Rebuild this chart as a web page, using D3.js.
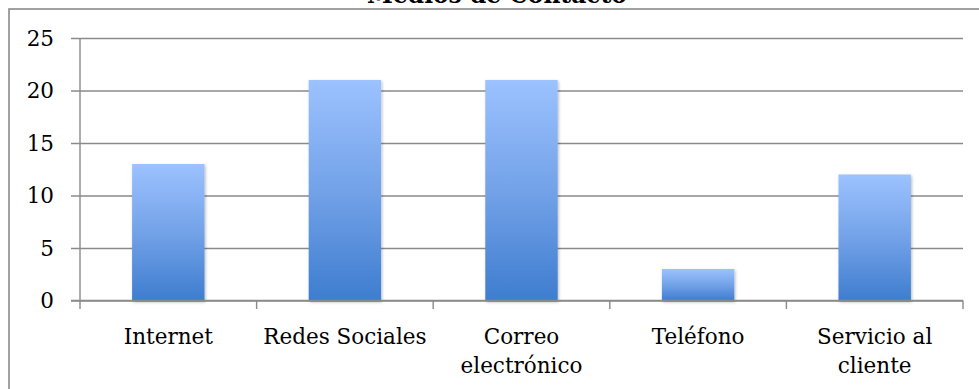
<!DOCTYPE html>
<html>
<head>
<meta charset="utf-8">
<script src="https://cdn.jsdelivr.net/npm/d3@7"></script>
<style>
  html, body { margin: 0; padding: 0; background: #fff; }
  svg { display: block; }
  text { font-family: "DejaVu Serif", "Liberation Serif", serif; fill: #000; }
</style>
</head>
<body>
<svg id="chart" width="979" height="389"></svg>
<script>
// Chart data
const title = "Medios de Contacto";
const categories = ["Internet", "Redes Sociales", "Correo electrónico", "Teléfono", "Servicio al cliente"];
const values = [13, 21, 21, 3, 12];
const yTicks = [0, 5, 10, 15, 20, 25];

const svg = d3.select("#chart");
const W = 979, H = 389;
const plot = { left: 80, right: 963, top: 38, bottom: 300.5 };
const gridColor = "#8a8a8a";
const labelSize = 21.5;

// Outer chart frame (runs past the right and bottom edges)
svg.append("rect")
  .attr("x", 9).attr("y", 9)
  .attr("width", W + 20).attr("height", H + 20)
  .attr("fill", "#fff")
  .attr("stroke", gridColor).attr("stroke-width", 1.6);

// Title sits just above the frame
const titleText = svg.append("text")
  .attr("x", 497).attr("y", 3)
  .attr("text-anchor", "middle")
  .attr("font-weight", "bold")
  .attr("font-size", 24)
  .text(title);
const tw = titleText.node().getComputedTextLength();
titleText.attr("font-size", 24 * 260 / tw);

// Scales
const x = d3.scaleBand().domain(categories).range([plot.left, plot.right]).padding(0);
const y = d3.scaleLinear().domain([0, 25]).range([plot.bottom, plot.top]);

// Defs: bar gradient and soft shadow
const defs = svg.append("defs");
const grad = defs.append("linearGradient")
  .attr("id", "barGrad").attr("x1", 0).attr("y1", 0).attr("x2", 0).attr("y2", 1);
grad.append("stop").attr("offset", "0%").attr("stop-color", "#9cc2ff");
grad.append("stop").attr("offset", "50%").attr("stop-color", "#73a2e8");
grad.append("stop").attr("offset", "100%").attr("stop-color", "#3e7dcf");
const shadow = defs.append("filter").attr("id", "barShadow")
  .attr("x", "-20%").attr("y", "-20%").attr("width", "140%").attr("height", "140%");
shadow.append("feDropShadow")
  .attr("dx", 1).attr("dy", 1.5).attr("stdDeviation", 1.6)
  .attr("flood-color", "#000").attr("flood-opacity", 0.28);

// Horizontal gridlines with left tick marks
const yAxis = d3.axisLeft(y).tickValues(yTicks).tickSize(-(plot.right - plot.left)).tickPadding(0).tickFormat("");
const gy = svg.append("g").attr("transform", `translate(${plot.left},0)`).call(yAxis);
gy.select(".domain").remove();
gy.selectAll(".tick line").attr("x1", -9).attr("stroke", gridColor).attr("stroke-width", 1.4);

// Y tick labels
svg.append("g").selectAll("text").data(yTicks).join("text")
  .attr("x", 54)
  .attr("y", d => y(d))
  .attr("dy", "0.36em")
  .attr("text-anchor", "end")
  .attr("font-size", labelSize)
  .text(d => d);

// Vertical axis line
svg.append("line")
  .attr("x1", plot.left).attr("x2", plot.left)
  .attr("y1", plot.top).attr("y2", plot.bottom + 8.5)
  .attr("stroke", gridColor).attr("stroke-width", 1.4);

// Category tick marks at band boundaries
const boundaries = categories.map(c => x(c)).concat([plot.right]);
svg.append("g").selectAll("line").data(boundaries.slice(1)).join("line")
  .attr("x1", d => d).attr("x2", d => d)
  .attr("y1", plot.bottom).attr("y2", plot.bottom + 8.5)
  .attr("stroke", gridColor).attr("stroke-width", 1.4);

// Bars
const barFrac = 0.41;
svg.append("g").selectAll("rect").data(values).join("rect")
  .attr("x", (d, i) => x(categories[i]) + x.bandwidth() * (1 - barFrac) / 2)
  .attr("width", x.bandwidth() * barFrac)
  .attr("y", d => y(d))
  .attr("height", d => y(0) - y(d))
  .attr("fill", "url(#barGrad)")
  .attr("filter", "url(#barShadow)");

// Baseline drawn over bars
svg.append("line")
  .attr("x1", plot.left - 9).attr("x2", plot.right)
  .attr("y1", plot.bottom).attr("y2", plot.bottom)
  .attr("stroke", gridColor).attr("stroke-width", 1.4);

// Category labels, wrapped to the band width
const maxW = x.bandwidth() - 6;
const labels = svg.append("g");
categories.forEach(cat => {
  const t = labels.append("text")
    .attr("x", x(cat) + x.bandwidth() / 2)
    .attr("y", 344)
    .attr("text-anchor", "middle")
    .attr("font-size", labelSize);
  const words = cat.split(" ");
  let line = [];
  let lineNo = 0;
  let span = t.append("tspan").attr("x", x(cat) + x.bandwidth() / 2).attr("dy", 0);
  words.forEach(w => {
    line.push(w);
    span.text(line.join(" "));
    if (span.node().getComputedTextLength() > maxW && line.length > 1) {
      line.pop();
      span.text(line.join(" "));
      line = [w];
      lineNo++;
      span = t.append("tspan").attr("x", x(cat) + x.bandwidth() / 2).attr("dy", 29).text(w);
    }
  });
});
</script>
</body>
</html>
